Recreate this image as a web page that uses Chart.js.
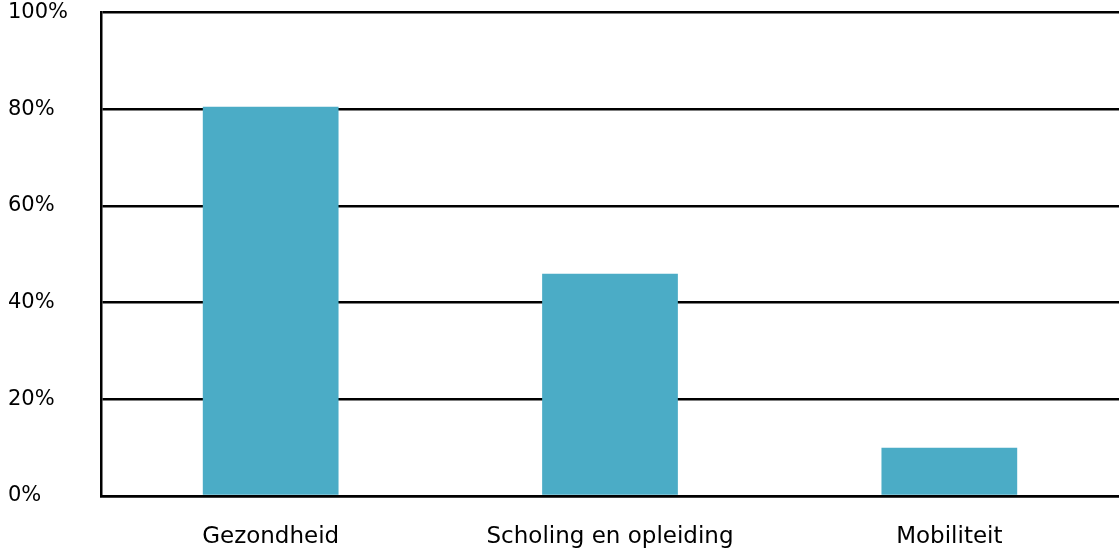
<!DOCTYPE html>
<html>
<head>
<meta charset="utf-8">
<script src="https://cdn.jsdelivr.net/npm/chart.js@4"></script>
<style>
  html, body { margin: 0; padding: 0; background: #ffffff; }
  #wrap { width: 1119px; height: 550px; position: relative; }
</style>
</head>
<body>
<div id="wrap"><canvas id="c" width="1119" height="550"></canvas></div>
<script>
const categories = ["Gezondheid", "Scholing en opleiding", "Mobiliteit"];
const values = [80.5, 46, 10];
const yTicks = [0, 20, 40, 60, 80, 100];

const ctx = document.getElementById('c').getContext('2d');
new Chart(ctx, {
  type: 'bar',
  data: {
    labels: categories,
    datasets: [{
      data: values,
      backgroundColor: '#4BACC6',
      borderWidth: 0,
      barPercentage: 0.4,
      categoryPercentage: 1.0
    }]
  },
  options: {
    responsive: false,
    animation: false,
    devicePixelRatio: 1,
    layout: { padding: { left: 8, top: 12, right: 0, bottom: 0 } },
    plugins: { legend: { display: false }, tooltip: { enabled: false } },
    scales: {
      x: {
        grid: { display: false, drawTicks: false },
        border: { display: true, color: '#000000', width: 2.5 },
        ticks: {
          color: '#000000',
          padding: 27,
          maxRotation: 0,
          font: { family: 'DejaVu Sans', size: 23 }
        },
        afterFit: (s) => { s.height = 54; }
      },
      y: {
        min: 0,
        max: 100,
        afterBuildTicks: (s) => { s.ticks = yTicks.map(v => ({ value: v })); },
        grid: { color: '#000000', lineWidth: 2.5, drawTicks: false },
        border: { display: true, color: '#000000', width: 2.5 },
        ticks: {
          color: '#000000',
          crossAlign: 'far',
          padding: 0,
          font: { family: 'DejaVu Sans', size: 21 },
          callback: (v) => v + '%'
        },
        afterFit: (s) => { s.width = 93; }
      }
    }
  }
});
</script>
</body>
</html>
